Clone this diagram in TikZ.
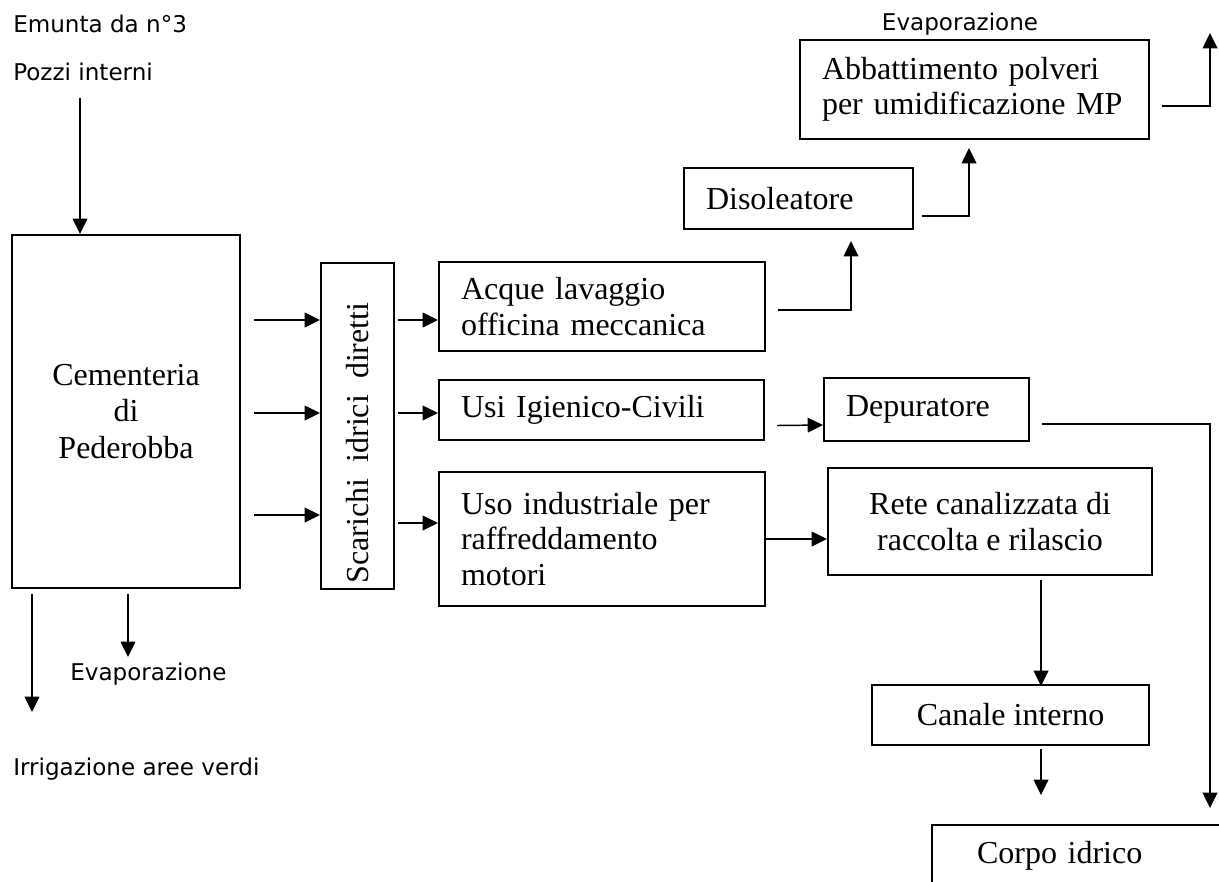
\documentclass[tikz,border=0pt]{standalone}
\usepackage{graphicx}
\usepackage{fontspec}
\setmainfont{Liberation Serif}
\newfontfamily\lblfont{DejaVu Sans}
\usetikzlibrary{arrows.meta}
\tikzset{
  box/.style={draw,line width=1.5pt,font=\fontsize{24}{26.5}\selectfont,inner ysep=0pt},
  lbox/.style={box,align=left,inner xsep=16.5pt,anchor=north west},
  cbox/.style={box,align=center,anchor=north west},
  lbl/.style={font=\lblfont\fontsize{17.3}{20}\selectfont,inner sep=0pt},
  arr/.style={line width=1.1pt,-{Triangle[length=11.5pt,width=11pt]}}
}
\begin{document}
\begin{tikzpicture}[x=0.75pt,y=-0.75pt]
\useasboundingbox (0,0) rectangle (1219,881);
\clip (0,0) rectangle (1219,881);
% labels
\node[lbl,anchor=base west] (emu) at (13,33) {Emunta da n°3};
\node[lbl,anchor=base west] (pozzi) at (13,80) {Pozzi interni};
\node[lbl,anchor=base west] (evb) at (70,680) {Evaporazione};
\node[lbl,anchor=base west] (irr) at (13,775) {Irrigazione aree verdi};
\node[lbl,anchor=base] (evt) at (960,31) {Evaporazione};
% boxes
\node[cbox,font=\fontsize{24}{27.4}\selectfont,minimum width=171pt,minimum height=264.75pt] (cem) at (11,234) {Cementeria\\di\\Pederobba};
\node[box,anchor=north west,minimum width=54.75pt,minimum height=244.5pt] (sca) at (320,262)
  {\rotatebox{90}{\makebox[236pt][l]{Scarichi~ idrici~ diretti}}};
\node[lbox,text width=211.5pt,minimum height=66.75pt] (acq) at (438,261) {Acque lavaggio\\officina meccanica};
\node[lbox,text width=210.75pt,minimum height=45pt] (usi) at (438,379) {Usi Igienico-Civili};
\node[lbox,text width=211.5pt,minimum height=100.5pt] (uso) at (438,471) {Uso industriale per\\raffreddamento\\motori};
\node[lbox,text width=138.75pt,minimum height=45.75pt] (dis) at (683,167) {Disoleatore};
\node[lbox,text width=228.75pt,minimum height=74.25pt] (abb) at (799,39) {Abbattimento polveri\\per umidificazione MP};
\node[lbox,text width=120.75pt,minimum height=47.25pt] (dep) at (823,377) {Depuratore};
\node[cbox,minimum width=243pt,minimum height=80.25pt] (rete) at (827,467) {Rete canalizzata di\\raccolta e rilascio};
\node[cbox,minimum width=207.75pt,minimum height=45pt] (can) at (871,684) {Canale interno};
\node[lbox,inner xsep=33.75pt,text width=232pt,minimum height=46.5pt] (corpo) at (931,824) {Corpo idrico};
% flows
\coordinate (in) at (80,98);
\draw[arr] (in) -- (in |- cem.north);
\draw[arr] (cem.south west) ++(21,5) -- ++(0,118);
\draw[arr] (cem.south west) ++(117,5) -- ++(0,63);
\foreach \y in {320,413,515}
  \draw[arr] (cem.east |- 0,\y) ++(13,0) -- (sca.west |- 0,\y);
\foreach \y/\b in {320/acq,413/usi,523/uso}
  \draw[arr] (sca.east |- 0,\y) ++(3,0) -- (\b.west |- 0,\y);
\draw[arr] (acq.east) ++(12,3.5) -| ++(73,-69);
\draw[arr] (dis.east) ++(8,17.5) -| ++(47,-68);
\draw[arr] (abb.east) ++(12,16.5) -| ++(48,-73);
\draw[arr] (dep.west) ++(-46,16) -- (dep.west |- 0,425);
\draw[arr] (dep.east) ++(12,14.5) -| ++(168,384);
\draw[arr] (uso.east) -- (rete.west |- uso.east);
\draw[arr] (rete.south) ++(51,4) -- ++(0,106);
\draw[arr] (can.south) ++(30.5,3) -- ++(0,46);
\end{tikzpicture}
\end{document}
